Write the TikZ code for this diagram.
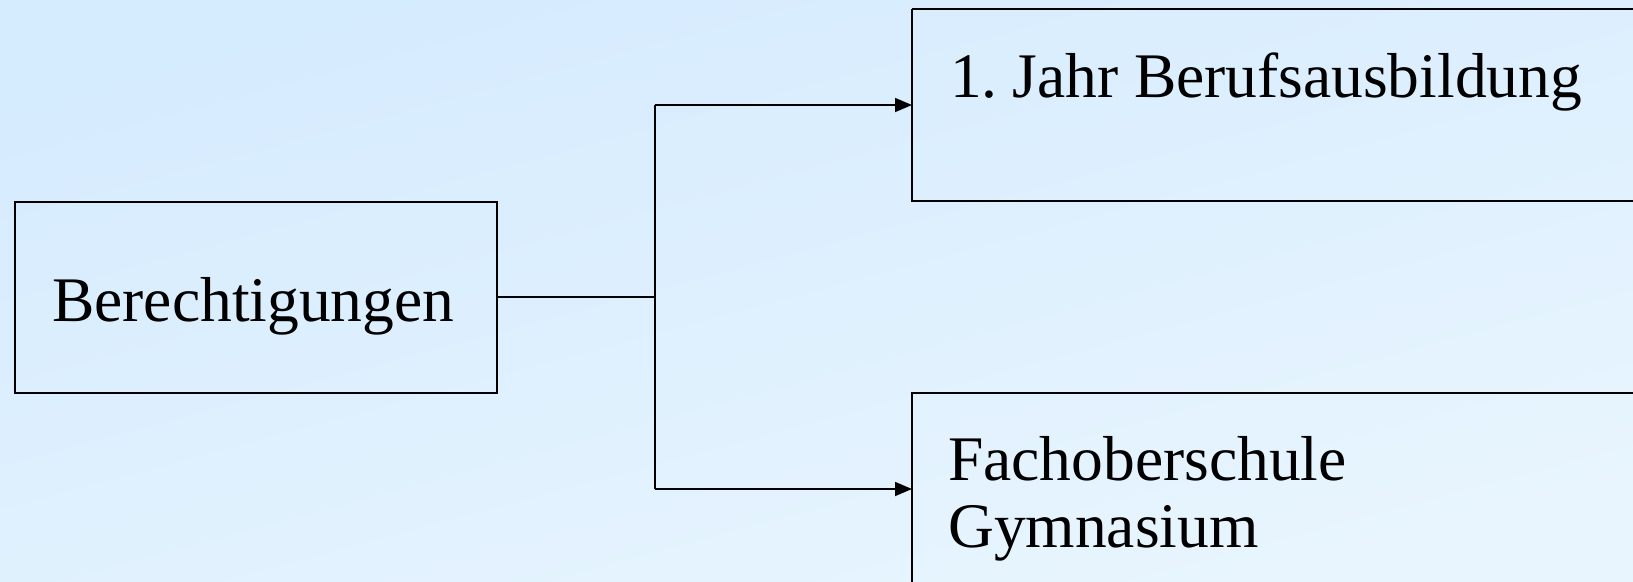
\documentclass[tikz,border=0pt]{standalone}
\usepackage{fontspec}
\setmainfont{Liberation Serif}
\usetikzlibrary{arrows.meta}
\definecolor{bgtop}{HTML}{D5EBFE}
\definecolor{bgbot}{HTML}{E8F5FE}
\begin{document}
\begin{tikzpicture}[x=1pt,y=-1pt,
  boxline/.style={draw=black,line width=1.6pt},
  conn/.style={draw=black,line width=1.6pt},
  arr/.style={conn,-{Triangle[length=17pt,width=14pt]}},
  lbl/.style={anchor=base west,inner sep=0pt,font=\fontsize{63.5}{67}\selectfont,align=left}]
\useasboundingbox (0,0) rectangle (1633,581);
\shade[top color=bgtop,bottom color=bgbot,shading angle=15] (0,0) rectangle (1633,581);
% boxes
\path[boxline] (15,202) rectangle (497,393);
\node[lbl] (b) at (52,321) {Berechtigungen};
\path[boxline] (912,9) -- (1640,9) (1640,201) -- (912,201) -- (912,9);
\node[lbl] (j) at (950,97) {1.\kern-0.02em\ Jahr Berufsausbildung};
\path[boxline] (912,600) -- (912,393) -- (1640,393);
\node[lbl] (f) at (948,547) {Fachoberschule\\Gymnasium};
\coordinate (out) at (497,297);
\coordinate (split) at (655,297);
\coordinate (t1) at (655,105);
\coordinate (t2) at (655,489);
\coordinate (in1) at (912,105);
\coordinate (in2) at (912,489);
\draw[conn] (out) -- (split);
\draw[conn] (t1) -- (t2);
\draw[arr] (t1) -- (in1);
\draw[arr] (t2) -- (in2);
\end{tikzpicture}
\end{document}
